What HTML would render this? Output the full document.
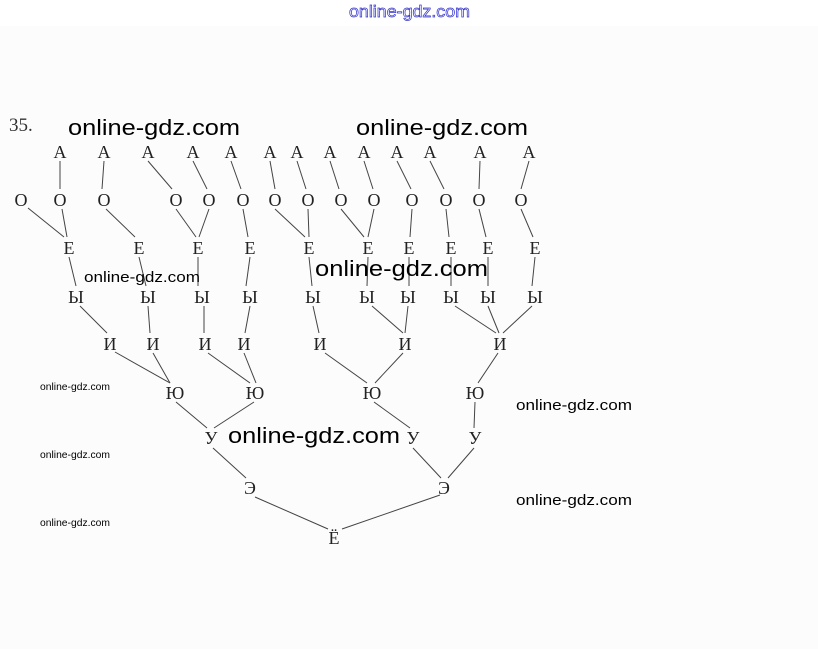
<!DOCTYPE html>
<html><head><meta charset="utf-8"><style>
html,body{margin:0;padding:0;background:#fcfcfc;}
svg{display:block;}
.l{font-family:"Liberation Serif","DejaVu Serif",serif;font-size:18px;fill:#222;text-anchor:middle;}
.w{font-family:"Liberation Sans","DejaVu Sans",sans-serif;fill:#000;}
</style></head><body>
<svg width="818" height="649" viewBox="0 0 818 649" xmlns="http://www.w3.org/2000/svg">
<rect width="818" height="649" fill="#fcfcfc"/>
<rect width="818" height="26" fill="#fff"/>
<text x="349" y="17" textLength="121" lengthAdjust="spacingAndGlyphs" font-family="Liberation Sans, sans-serif" font-size="17" fill="none" stroke="#3333cc" stroke-width="0.7">online-gdz.com</text>
<text x="9" y="131" font-family="Liberation Serif, serif" font-size="19" fill="#333">35.</text>
<g stroke="#444" stroke-width="1" fill="none">
<line x1="60" y1="161" x2="60" y2="189"/><line x1="104" y1="161" x2="102" y2="189"/><line x1="148" y1="161" x2="172" y2="189"/>
<line x1="193" y1="161" x2="207" y2="189"/><line x1="231" y1="161" x2="241" y2="189"/><line x1="270" y1="161" x2="275" y2="189"/>
<line x1="297" y1="161" x2="306" y2="189"/><line x1="330" y1="161" x2="339" y2="189"/><line x1="364" y1="161" x2="373" y2="189"/>
<line x1="397" y1="161" x2="411" y2="189"/><line x1="430" y1="161" x2="444" y2="189"/><line x1="480" y1="161" x2="479" y2="189"/>
<line x1="529" y1="161" x2="521" y2="189"/>
<line x1="28" y1="208" x2="64" y2="237"/><line x1="62" y1="209" x2="67" y2="237"/><line x1="106" y1="209" x2="135" y2="237"/>
<line x1="176" y1="209" x2="196" y2="237"/><line x1="209" y1="209" x2="199" y2="237"/><line x1="243" y1="209" x2="248" y2="237"/>
<line x1="275" y1="209" x2="305" y2="237"/><line x1="308" y1="209" x2="309" y2="237"/><line x1="341" y1="209" x2="364" y2="237"/>
<line x1="374" y1="209" x2="368" y2="237"/><line x1="412" y1="209" x2="410" y2="237"/><line x1="446" y1="209" x2="449" y2="237"/>
<line x1="479" y1="209" x2="486" y2="237"/><line x1="521" y1="209" x2="533" y2="237"/>
<line x1="69" y1="257" x2="76" y2="286"/><line x1="139" y1="257" x2="146" y2="286"/><line x1="198" y1="257" x2="198" y2="286"/>
<line x1="250" y1="257" x2="246" y2="286"/><line x1="309" y1="257" x2="312" y2="286"/><line x1="368" y1="257" x2="367" y2="286"/>
<line x1="409" y1="257" x2="409" y2="286"/><line x1="451" y1="257" x2="451" y2="286"/><line x1="488" y1="257" x2="488" y2="286"/>
<line x1="535" y1="257" x2="532" y2="286"/>
<line x1="80" y1="306" x2="107" y2="333"/><line x1="148" y1="306" x2="150" y2="333"/><line x1="204" y1="306" x2="204" y2="333"/>
<line x1="250" y1="306" x2="245" y2="333"/><line x1="313" y1="306" x2="319" y2="333"/><line x1="372" y1="306" x2="403" y2="333"/>
<line x1="408" y1="306" x2="405" y2="333"/><line x1="455" y1="306" x2="496" y2="333"/><line x1="488" y1="306" x2="499" y2="333"/>
<line x1="532" y1="306" x2="503" y2="333"/>
<line x1="115" y1="352" x2="170" y2="383"/><line x1="153" y1="353" x2="170" y2="383"/><line x1="208" y1="353" x2="250" y2="383"/>
<line x1="244" y1="353" x2="256" y2="383"/><line x1="325" y1="353" x2="367" y2="383"/><line x1="403" y1="353" x2="375" y2="383"/>
<line x1="498" y1="353" x2="478" y2="383"/>
<line x1="176" y1="402" x2="207" y2="428"/><line x1="254" y1="402" x2="214" y2="428"/><line x1="374" y1="402" x2="410" y2="428"/>
<line x1="475" y1="402" x2="474" y2="428"/>
<line x1="213" y1="448" x2="246" y2="478"/><line x1="413" y1="448" x2="441" y2="478"/><line x1="474" y1="448" x2="448" y2="478"/>
<line x1="255" y1="497" x2="328" y2="529"/><line x1="440" y1="495" x2="342" y2="529"/>
</g>
<g class="l">
<text x="60" y="158">А</text><text x="104" y="158">А</text><text x="148" y="158">А</text><text x="193" y="158">А</text><text x="231" y="158">А</text><text x="270" y="158">А</text><text x="297" y="158">А</text><text x="330" y="158">А</text><text x="364" y="158">А</text><text x="397" y="158">А</text><text x="430" y="158">А</text><text x="480" y="158">А</text><text x="529" y="158">А</text>
<text x="21" y="206">О</text><text x="60" y="206">О</text><text x="104" y="206">О</text><text x="176" y="206">О</text><text x="209" y="206">О</text><text x="243" y="206">О</text><text x="275" y="206">О</text><text x="308" y="206">О</text><text x="341" y="206">О</text><text x="374" y="206">О</text><text x="412" y="206">О</text><text x="446" y="206">О</text><text x="479" y="206">О</text><text x="521" y="206">О</text>
<text x="69" y="254">Е</text><text x="139" y="254">Е</text><text x="198" y="254">Е</text><text x="250" y="254">Е</text><text x="309" y="254">Е</text><text x="368" y="254">Е</text><text x="409" y="254">Е</text><text x="451" y="254">Е</text><text x="488" y="254">Е</text><text x="535" y="254">Е</text>
<text x="76" y="303">Ы</text><text x="148" y="303">Ы</text><text x="202" y="303">Ы</text><text x="250" y="303">Ы</text><text x="313" y="303">Ы</text><text x="367" y="303">Ы</text><text x="408" y="303">Ы</text><text x="451" y="303">Ы</text><text x="488" y="303">Ы</text><text x="535" y="303">Ы</text>
<text x="110" y="350">И</text><text x="153" y="350">И</text><text x="205" y="350">И</text><text x="244" y="350">И</text><text x="320" y="350">И</text><text x="405" y="350">И</text><text x="500" y="350">И</text>
<text x="175" y="399">Ю</text><text x="255" y="399">Ю</text><text x="372" y="399">Ю</text><text x="475" y="399">Ю</text>
<text x="211" y="444">У</text><text x="413" y="444">У</text><text x="475" y="444">У</text>
<text x="250" y="494">Э</text><text x="444" y="494">Э</text>
<text x="334" y="544">Ё</text>
</g>
<g class="w" lengthAdjust="spacingAndGlyphs">
<text x="68" y="135" font-size="22" textLength="172" lengthAdjust="spacingAndGlyphs">online-gdz.com</text>
<text x="356" y="135" font-size="22" textLength="172" lengthAdjust="spacingAndGlyphs">online-gdz.com</text>
<text x="84" y="282" font-size="15" textLength="116" lengthAdjust="spacingAndGlyphs">online-gdz.com</text>
<text x="315" y="276" font-size="22" textLength="173" lengthAdjust="spacingAndGlyphs">online-gdz.com</text>
<text x="40" y="390" font-size="10" textLength="70" lengthAdjust="spacingAndGlyphs">online-gdz.com</text>
<text x="516" y="410" font-size="15" textLength="116" lengthAdjust="spacingAndGlyphs">online-gdz.com</text>
<text x="228" y="443" font-size="22" textLength="172" lengthAdjust="spacingAndGlyphs">online-gdz.com</text>
<text x="40" y="458" font-size="10" textLength="70" lengthAdjust="spacingAndGlyphs">online-gdz.com</text>
<text x="516" y="505" font-size="15" textLength="116" lengthAdjust="spacingAndGlyphs">online-gdz.com</text>
<text x="40" y="526" font-size="10" textLength="70" lengthAdjust="spacingAndGlyphs">online-gdz.com</text>
</g>
</svg>
</body></html>
